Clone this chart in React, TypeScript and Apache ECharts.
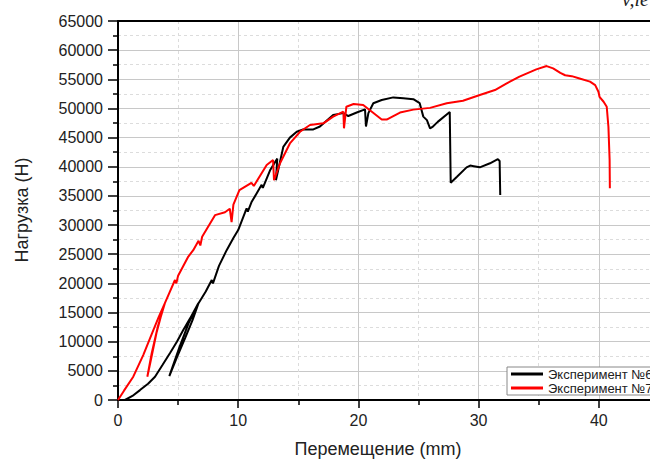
import React, { useEffect, useRef } from "react";
import * as echarts from "echarts";

// Эксперимент №6 (black)
const exp6X = [0.58, 1.2, 1.83, 2.5, 3.08, 3.7, 4.33, 4.9, 5.43, 6.0, 6.68, 5.9, 5.1, 4.27, 4.9, 5.6, 6.2, 6.7, 7.3, 7.8, 7.9, 8.4, 9.04, 9.6, 10.0, 10.7, 10.8, 11.1, 11.95, 12.05, 12.65, 13.25, 13.14, 13.75, 14.3, 14.87, 15.4, 16.25, 16.8, 17.9, 18.75, 19.16, 19.86, 20.55, 20.63, 20.83, 21.24, 21.94, 22.9, 23.74, 24.57, 25.1, 25.4, 25.7, 25.96, 26.2, 26.6, 27.6, 27.68, 28.2, 29.0, 29.3, 29.6, 30.1, 30.95, 31.6, 31.75, 31.8];
const exp6Y = [0, 700, 1700, 2800, 4000, 6000, 8060, 10000, 12000, 14000, 16580, 13300, 9000, 4100, 7300, 10700, 13700, 16600, 18600, 20580, 20000, 23000, 25700, 27800, 29150, 32850, 32300, 33900, 36900, 36400, 39400, 41400, 37700, 43400, 45000, 46000, 46400, 46400, 46900, 48900, 49200, 48700, 49300, 49850, 46900, 49200, 50900, 51450, 51900, 51750, 51600, 50900, 48600, 48000, 46600, 46900, 47700, 49400, 37270, 38300, 39900, 40200, 40100, 39900, 40600, 41300, 41000, 35150];

// Эксперимент №7 (red)
const exp7X = [0, 0.5, 1.27, 2.1, 2.94, 3.4, 3.9, 3.3, 2.8, 2.44, 2.7, 3.2, 3.6, 3.9, 4.3, 4.74, 4.85, 5.0, 5.85, 6.26, 6.7, 6.85, 7.0, 8.07, 8.9, 9.3, 9.45, 9.6, 10.1, 11.1, 11.3, 12.37, 12.9, 12.98, 13.48, 14.3, 15.14, 15.97, 17.08, 17.9, 18.75, 18.8, 19.0, 19.6, 20.4, 20.96, 21.94, 22.35, 23.46, 24.57, 25.96, 27.35, 28.7, 30.1, 31.36, 32.34, 33.4, 34.8, 35.66, 36.2, 36.8, 37.2, 37.75, 38.4, 39.27, 39.7, 39.97, 40.06, 40.4, 40.66, 40.8, 40.9, 40.92];
const exp7Y = [0, 1600, 4000, 7700, 12000, 14300, 16600, 12500, 8000, 4000, 6500, 11500, 14600, 16600, 18500, 20580, 20000, 21300, 24600, 25700, 27300, 26500, 28000, 31700, 32200, 32800, 30500, 33500, 36000, 37250, 36700, 40300, 41150, 37700, 40600, 44000, 46000, 47160, 47450, 48600, 49450, 46600, 50300, 50760, 50600, 49700, 48100, 48100, 49300, 49800, 50100, 50880, 51330, 52300, 53160, 54300, 55450, 56700, 57270, 56870, 56100, 55700, 55540, 55140, 54600, 54000, 52860, 52000, 51150, 50300, 46870, 41160, 36300];

const seriesNames = ["Эксперимент №6", "Эксперимент №7"];
const xTitle = "Перемещение (mm)";
const yTitle = "Нагрузка (Н)";

const FONT = "Liberation Sans, Arial, sans-serif";

export default function App() {
  const ref = useRef<HTMLDivElement>(null);
  useEffect(() => {
    if (!ref.current) return;
    const chart = echarts.init(ref.current, undefined, { renderer: "svg" });
    const pairs = (xs: number[], ys: number[]) => xs.map((x, i) => [x, ys[i]]);
    const axisCommon = {
      axisLine: { show: true, onZero: false, lineStyle: { color: "#000", width: 2 } },
    };
    const plain = (v: number) => String(v);
    chart.setOption({
      animation: false,
      backgroundColor: "#fff",
      grid: { left: 118, top: 21, width: 601, bottom: 60, containLabel: false, outerBoundsMode: "none" },
      legend: {
        orient: "vertical",
        left: 507,
        top: 367,
        padding: [0, 4, 0, 4],
        itemGap: 0,
        itemWidth: 32,
        itemHeight: 3,
        icon: "rect",
        borderColor: "#888",
        borderWidth: 1,
        backgroundColor: "#fff",
        textStyle: { fontFamily: FONT, fontSize: 13, color: "#222", lineHeight: 14 },
        data: seriesNames,
      },
      xAxis: [
        {
          type: "value",
          min: 0,
          max: 50,
          interval: 10,
          ...axisCommon,
          axisTick: { show: true, inside: false, length: 8, lineStyle: { color: "#000", width: 1.5 } },
          minorTick: { show: true, splitNumber: 2, length: 5, lineStyle: { color: "#000", width: 1.5 } },
          axisLabel: { fontFamily: FONT, fontSize: 16, color: "#222", margin: 12, formatter: plain, showMaxLabel: false },
          splitLine: { show: true, lineStyle: { color: "#c8c8c8", width: 1 } },
          minorSplitLine: { show: true, lineStyle: { color: "#dcdcdc", width: 1, type: [3, 3] } },
        },
        {
          type: "value",
          position: "top",
          min: 0,
          max: 50,
          ...axisCommon,
          axisTick: { show: false },
          axisLabel: { show: false },
          splitLine: { show: false },
        },
      ],
      yAxis: {
        type: "value",
        min: 0,
        max: 65000,
        interval: 5000,
        ...axisCommon,
        axisTick: { show: true, inside: false, length: 10, lineStyle: { color: "#000", width: 1.5 } },
        minorTick: { show: true, splitNumber: 2, length: 5, lineStyle: { color: "#000", width: 1.5 } },
        axisLabel: { fontFamily: FONT, fontSize: 16, color: "#222", margin: 15, formatter: plain },
        splitLine: { show: true, lineStyle: { color: "#c8c8c8", width: 1 } },
        minorSplitLine: { show: true, lineStyle: { color: "#dcdcdc", width: 1, type: [3, 3] } },
      },
      graphic: [
        {
          type: "text",
          x: 378,
          y: 440,
          style: { text: xTitle, fontFamily: FONT, fontSize: 18, fill: "#222", textAlign: "center", textVerticalAlign: "top" },
        },
        {
          type: "text",
          x: 22,
          y: 210,
          rotation: Math.PI / 2,
          style: { text: yTitle, fontFamily: FONT, fontSize: 18, fill: "#222", textAlign: "center", textVerticalAlign: "middle" },
        },
        {
          type: "text",
          x: 622,
          y: 9,
          style: { text: "v,le", fontFamily: "Liberation Serif, serif", fontStyle: "italic", fontSize: 20, fill: "#222", textAlign: "left", textVerticalAlign: "bottom" },
        },
      ],
      series: [
        {
          name: seriesNames[0],
          type: "line",
          data: pairs(exp6X, exp6Y),
          showSymbol: false,
          lineStyle: { color: "#000", width: 2 },
          itemStyle: { color: "#000" },
          z: 3,
        },
        {
          name: seriesNames[1],
          type: "line",
          data: pairs(exp7X, exp7Y),
          showSymbol: false,
          lineStyle: { color: "#ff0000", width: 2 },
          itemStyle: { color: "#ff0000" },
          z: 4,
        },
      ],
    });
    return () => chart.dispose();
  }, []);
  return <div ref={ref} style={{ position: "absolute", left: 0, top: 0, width: 650, height: 460, overflow: "hidden" }} />;
}
